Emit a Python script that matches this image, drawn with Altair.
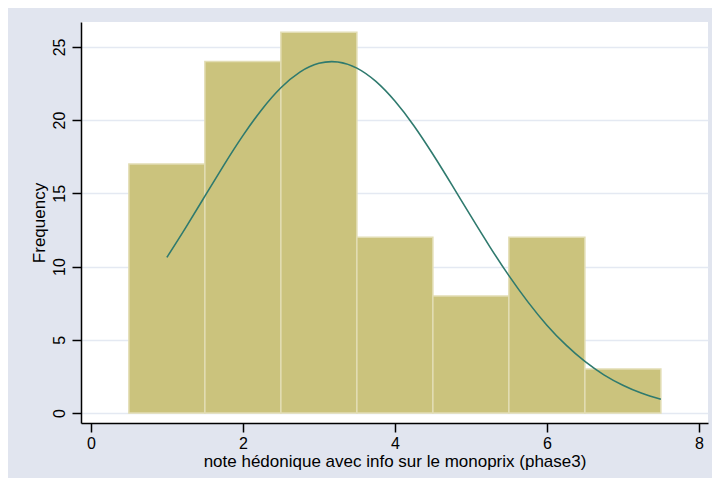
import altair as alt
import pandas as pd

# Histogram bins (left edge, right edge, frequency)
bin_left = [0.5, 1.5, 2.5, 3.5, 4.5, 5.5, 6.5]
bin_right = [1.5, 2.5, 3.5, 4.5, 5.5, 6.5, 7.5]
freq = [17, 24, 26, 12, 8, 12, 3]

# Normal density overlay
curve_x = [1.0, 1.25, 1.5, 1.75, 2.0, 2.25, 2.5, 2.75, 3.0, 3.25, 3.5, 3.75,
           4.0, 4.25, 4.5, 4.75, 5.0, 5.25, 5.5, 5.75, 6.0, 6.25, 6.5, 6.75,
           7.0, 7.25, 7.5]
curve_y = [10.63, 12.68, 14.81, 16.93, 18.94, 20.73, 22.21, 23.28, 23.88, 23.97,
           23.55, 22.64, 21.30, 19.62, 17.67, 15.58, 13.44, 11.35, 9.38, 7.59,
           6.00, 4.65, 3.52, 2.61, 1.90, 1.35, 0.94]

x_ticks = [0, 2, 4, 6, 8]
y_ticks = [0, 5, 10, 15, 20, 25]

bars_df = pd.DataFrame({"left": bin_left, "right": bin_right, "freq": freq})
curve_df = pd.DataFrame({"x": curve_x, "y": curve_y})

FONT = "Liberation Sans"

x_scale = alt.Scale(domain=[-0.13, 8.12], nice=False, zero=False)
y_scale = alt.Scale(domain=[-0.68, 26.7], nice=False, zero=False)

x_axis = alt.Axis(
    title="note hédonique avec info sur le monoprix (phase3)", format="d",
    values=x_ticks, grid=False, tickSize=9, labelPadding=3, titlePadding=2,
    labelFontSize=16, titleFontSize=17, labelFont=FONT, titleFont=FONT,
    titleFontWeight="normal", domainColor="black", tickColor="black",
    domainWidth=1.5, tickWidth=1.5, labelColor="black", titleColor="black",
)
y_axis = alt.Axis(
    title="Frequency", format="d",
    values=y_ticks, grid=True, gridColor="#e4e9f2", gridWidth=1.5,
    tickSize=9, labelPadding=5, titlePadding=3,
    labelAngle=270, labelAlign="center", labelBaseline="bottom",
    labelFontSize=16, titleFontSize=17, labelFont=FONT, titleFont=FONT,
    titleFontWeight="normal", domainColor="black", tickColor="black",
    domainWidth=1.5, tickWidth=1.5, labelColor="black", titleColor="black",
)

bars = alt.Chart(bars_df).mark_rect(
    fill="#cbc37d", stroke="#e2ddb4", strokeWidth=1.5
).encode(
    x=alt.X("left:Q", scale=x_scale, axis=x_axis),
    x2="right:Q",
    y=alt.Y("freq:Q", scale=y_scale, axis=y_axis),
    y2=alt.datum(0),
)

line = alt.Chart(curve_df).mark_line(
    color="#2f7a6e", strokeWidth=1.6, interpolate="natural"
).encode(
    x=alt.X("x:Q", scale=x_scale),
    y=alt.Y("y:Q", scale=y_scale),
)

chart = alt.layer(bars, line).properties(
    width=627, height=401,
    autosize=alt.AutoSizeParams(type="none"),
    padding={"left": 73, "top": 14, "right": 4, "bottom": 55},
    background="#e1e5ef",
).configure_view(
    stroke=None, fill="white"
)

chart.save("out.html", embed_options={"renderer": "svg", "actions": False})
